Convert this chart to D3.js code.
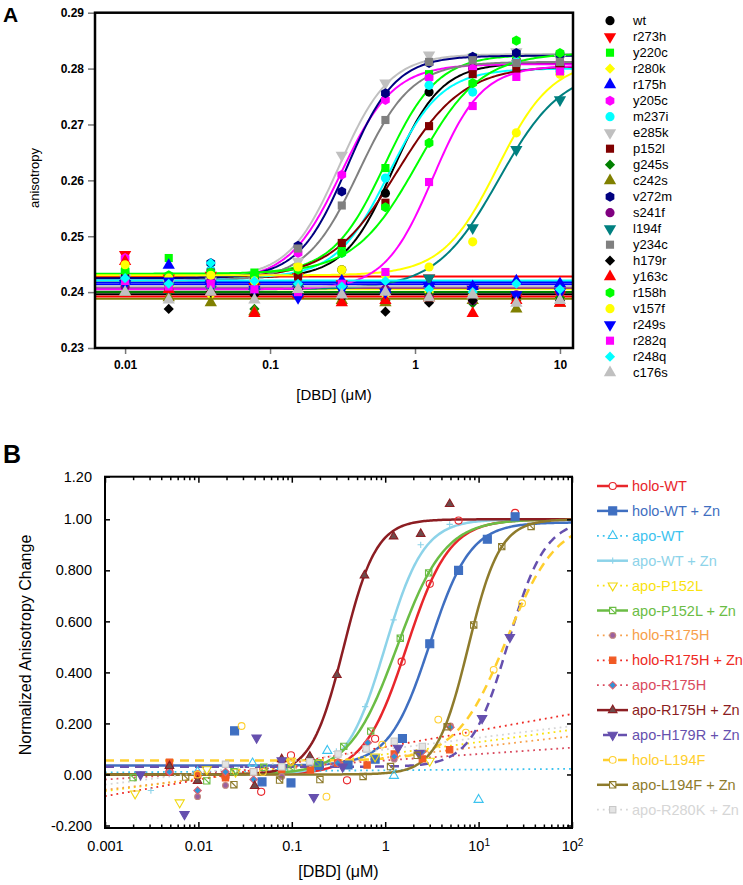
<!DOCTYPE html>
<html lang="en">
<head>
<meta charset="utf-8">
<script src="https://d3js.org/d3.v7.min.js"></script>
<style>
  body { margin: 0; background: #fff; }
  svg { display: block; font-family: Arial, "Liberation Sans", sans-serif; }
</style>
</head>
<body>
<svg id="chart" width="743" height="885"></svg>
<script>
// ---------------- panel A data ----------------
var concA = [0.01, 0.02, 0.039, 0.078, 0.156, 0.3125, 0.625, 1.25, 2.5, 5, 10];
var namesA = ['wt', 'r273h', 'y220c', 'r280k', 'r175h', 'y205c', 'm237i', 'e285k', 'p152l', 'g245s', 'c242s',
  'v272m', 's241f', 'l194f', 'y234c', 'h179r', 'y163c', 'r158h', 'v157f', 'r249s', 'r282q', 'r248q', 'c176s'];
var colorsA = ['#000000', '#ff0000', '#00ff00', '#ffff00', '#0000ff', '#ff00ff', '#00ffff', '#c0c0c0', '#800000', '#008000', '#808000',
  '#000080', '#800080', '#008080', '#808080', '#000000', '#ff0000', '#00ff00', '#ffff00', '#0000ff', '#ff00ff', '#00ffff', '#c0c0c0'];
var shapesA = ['circle', 'tdown', 'square', 'diamond', 'tup', 'hex', 'circle', 'tdown', 'square', 'diamond', 'tup',
  'hex', 'circle', 'tdown', 'square', 'diamond', 'tup', 'hex', 'circle', 'tdown', 'square', 'diamond', 'tup'];
// anisotropy at each concA value
var anisoA = [
  [0.2428, 0.2420, 0.2415, 0.2422, 0.2430, 0.2440, 0.2577, 0.2758, 0.2800, 0.2815, 0.2805],
  [0.2467, 0.2425, 0.2430, 0.2410, 0.2428, 0.2415, 0.2400, 0.2425, 0.2405, 0.2390, 0.2395],
  [0.2440, 0.2461, 0.2420, 0.2435, 0.2440, 0.2475, 0.2622, 0.2790, 0.2820, 0.2825, 0.2822],
  [0.2430, 0.2410, 0.2395, 0.2405, 0.2449, 0.2410, 0.2395, 0.2400, 0.2395, 0.2380, 0.2390],
  [0.2420, 0.2448, 0.2425, 0.2410, 0.2415, 0.2420, 0.2405, 0.2415, 0.2410, 0.2420, 0.2415],
  [0.2461, 0.2415, 0.2420, 0.2405, 0.2470, 0.2610, 0.2744, 0.2783, 0.2800, 0.2812, 0.2810],
  [0.2415, 0.2420, 0.2440, 0.2420, 0.2430, 0.2470, 0.2604, 0.2770, 0.2758, 0.2812, 0.2795],
  [0.2425, 0.2415, 0.2420, 0.2418, 0.2455, 0.2645, 0.2774, 0.2824, 0.2820, 0.2830, 0.2818],
  [0.2430, 0.2425, 0.2435, 0.2420, 0.2428, 0.2488, 0.2560, 0.2697, 0.2790, 0.2800, 0.2802],
  [0.2425, 0.2400, 0.2410, 0.2370, 0.2395, 0.2390, 0.2385, 0.2395, 0.2380, 0.2385, 0.2390],
  [0.2400, 0.2390, 0.2381, 0.2365, 0.2395, 0.2385, 0.2381, 0.2390, 0.2385, 0.2370, 0.2380],
  [0.2425, 0.2420, 0.2452, 0.2425, 0.2483, 0.2580, 0.2756, 0.2810, 0.2821, 0.2828, 0.2825],
  [0.2410, 0.2405, 0.2420, 0.2400, 0.2410, 0.2395, 0.2405, 0.2390, 0.2385, 0.2395, 0.2400],
  [0.2415, 0.2410, 0.2405, 0.2400, 0.2410, 0.2405, 0.2400, 0.2425, 0.2515, 0.2655, 0.2744],
  [0.2420, 0.2415, 0.2410, 0.2405, 0.2478, 0.2555, 0.2708, 0.2812, 0.2815, 0.2810, 0.2812],
  [0.2420, 0.2370, 0.2400, 0.2395, 0.2405, 0.2390, 0.2365, 0.2381, 0.2385, 0.2390, 0.2385],
  [0.2455, 0.2405, 0.2400, 0.2362, 0.2395, 0.2381, 0.2385, 0.2390, 0.2362, 0.2385, 0.2380],
  [0.2438, 0.2430, 0.2435, 0.2430, 0.2440, 0.2470, 0.2552, 0.2667, 0.2774, 0.2850, 0.2828],
  [0.2449, 0.2425, 0.2430, 0.2420, 0.2445, 0.2440, 0.2430, 0.2445, 0.2490, 0.2685, 0.2790],
  [0.2415, 0.2420, 0.2410, 0.2405, 0.2390, 0.2405, 0.2400, 0.2410, 0.2405, 0.2395, 0.2400],
  [0.2420, 0.2410, 0.2415, 0.2405, 0.2400, 0.2415, 0.2436, 0.2597, 0.2733, 0.2785, 0.2795],
  [0.2425, 0.2415, 0.2452, 0.2420, 0.2415, 0.2410, 0.2420, 0.2405, 0.2400, 0.2415, 0.2405],
  [0.2400, 0.2386, 0.2400, 0.2386, 0.2405, 0.2395, 0.2400, 0.2390, 0.2395, 0.2380, 0.2385]
];
// fitted curves: [bottom, top, K, hill n]
var fitsA = [
  [0.2425, 0.2810, 0.70, 2.6], [0.2428, 0.2428, 1, 1], [0.2432, 0.2825, 0.62, 2.4], [0.2405, 0.2405, 1, 1],
  [0.2418, 0.2418, 1, 1], [0.2420, 0.2808, 0.31, 2.4], [0.2425, 0.2800, 0.66, 2.4], [0.2425, 0.2826, 0.30, 2.5],
  [0.2425, 0.2805, 0.75, 1.9], [0.2400, 0.2400, 1, 1], [0.2388, 0.2388, 1, 1], [0.2425, 0.2823, 0.34, 2.6],
  [0.2408, 0.2408, 1, 1], [0.2405, 0.2800, 3.8, 2.0], [0.2420, 0.2812, 0.41, 2.4], [0.2396, 0.2396, 1, 1],
  [0.2392, 0.2392, 1, 1], [0.2433, 0.2828, 1.04, 2.0], [0.2430, 0.2815, 3.7, 2.3], [0.2414, 0.2414, 1, 1],
  [0.2405, 0.2805, 1.33, 2.6], [0.2421, 0.2421, 1, 1], [0.2410, 0.2410, 1, 1]
];
var yTicksA = [0.23, 0.24, 0.25, 0.26, 0.27, 0.28, 0.29];
var xTicksA = [0.01, 0.1, 1, 10];

// ---------------- panel B data ----------------
var namesB = ['holo-WT', 'holo-WT + Zn', 'apo-WT', 'apo-WT + Zn', 'apo-P152L', 'apo-P152L + Zn', 'holo-R175H',
  'holo-R175H + Zn', 'apo-R175H', 'apo-R175H + Zn', 'apo-H179R + Zn', 'holo-L194F', 'apo-L194F + Zn', 'apo-R280K + Zn'];
var colorsB = ['#e8262b', '#3f6fc1', '#3cc3ef', '#8dd3e9', '#f9e20f', '#6bbd45', '#f7a04a',
  '#ee2a24', '#d94a5e', '#8c1d22', '#6650ae', '#ffcf2e', '#8e7b2c', '#d6d6d6'];
var styleB = ['solid', 'solid', 'dot', 'solid', 'dot', 'solid', 'dot', 'dot', 'dot', 'solid', 'dash', 'dash', 'solid', 'dot'];
var shapesB = ['circle', 'square', 'tup', 'plus', 'tdown', 'boxx', 'circle', 'square', 'diamond', 'tup', 'tdown', 'circle', 'boxx', 'square'];
var markFillB = ['none', '#3f6fc1', 'none', 'none', 'none', 'none', '#9a5fa0', '#f15a24', '#2f93d6', '#6d4c4c', '#6650ae', 'none', 'none', '#e4e4e4'];
var markStrokeB = ['#e8262b', '#3f6fc1', '#3cc3ef', '#8dd3e9', '#f0d80f', '#6bbd45', '#c0877f', '#f15a24', '#e06070', '#8c1d22', '#6650ae', '#ffcf2e', '#8e7b2c', '#c8c8c8'];
var markSizeB = [40, 64, 36, 40, 36, 40, 26, 40, 28, 32, 38, 36, 40, 40];
// fit type and parameters: hill -> [bottom, top, K, n]; loglin -> [value at 0.001, value at 100]
var fitTypeB = ['hill', 'hill', 'loglin', 'hill', 'loglin', 'hill', 'loglin', 'loglin', 'loglin', 'hill', 'hill', 'hill', 'hill', 'loglin'];
var fitParamB = [
  [0, 1.0, 1.7, 1.9], [0.035, 0.988, 3.0, 2.0], [0.008, 0.022], [0, 1.0, 1.0, 2.1], [-0.065, 0.175], [0, 1.0, 1.34, 1.7],
  [-0.06, 0.15], [-0.085, 0.237], [-0.02, 0.105], [0, 1.0, 0.36, 2.5], [0.03, 1.0, 20.7, 2.2], [0.055, 1.0, 19.9, 1.62],
  [0, 1.0, 7.75, 2.56], [-0.04, 0.19]
];
// [DBD (uM), normalized change]
var pointsB = [
  [[0.0049, 0.01], [0.0098, 0.0], [0.0195, -0.01], [0.047, -0.068], [0.098, 0.075], [0.195, 0.03], [0.39, -0.023], [0.78, 0.14], [1.5, 0.442], [3.0, 0.747], [6.1, 0.995], [24.6, 1.025]],
  [[0.0244, 0.171], [0.048, -0.029], [0.098, -0.033], [0.195, 0.035], [0.4, 0.037], [0.78, 0.06], [1.53, 0.141], [3.0, 0.512], [6.1, 0.80], [12.4, 0.922], [24.6, 1.01]],
  [[0.0098, 0.01], [0.038, 0.044], [0.078, 0.03], [0.24, 0.093], [1.24, -0.005], [10, -0.099]],
  [[0.0031, -0.063], [0.0195, 0.01], [0.039, 0.0], [0.078, 0.04], [0.15, 0.05], [0.3, 0.09], [0.61, 0.266], [1.23, 0.606], [2.4, 0.9], [4.9, 0.98]],
  [[0.0021, -0.075], [0.0063, -0.11], [0.0123, 0.02], [0.025, 0.01], [0.098, 0.053], [0.78, 0.07], [3.0, 0.053]],
  [[0.002, -0.012], [0.0123, -0.025], [0.024, 0.011], [0.05, 0.028], [0.098, 0.024], [0.19, 0.045], [0.36, 0.11], [0.7, 0.17], [1.45, 0.534], [2.92, 0.79]],
  [[0.0098, -0.087], [0.0195, -0.043], [0.078, -0.008], [0.3125, 0.05], [1.25, 0.06], [5, 0.19]],
  [[0.0049, 0.048], [0.0098, -0.003], [0.0195, -0.013], [0.039, 0.01], [0.078, 0.02], [0.158, 0.017], [0.31, 0.045], [0.64, 0.037], [1.25, 0.08], [2.5, 0.061], [4.9, 0.097]],
  [[0.0049, 0.01], [0.0098, -0.063], [0.0195, 0.01], [0.039, -0.02], [0.078, 0.05], [0.156, 0.06], [0.31, 0.045], [0.65, 0.124], [1.25, 0.07], [2.5, 0.09], [5, 0.185]],
  [[0.0049, 0.033], [0.0098, -0.025], [0.04, -0.045], [0.078, 0.06], [0.156, 0.07], [0.304, 0.39], [0.6, 0.78], [1.23, 0.933], [2.4, 0.943], [4.9, 1.06]],
  [[0.0024, 0.0], [0.0071, -0.156], [0.042, 0.144], [0.078, 0.055], [0.172, -0.089], [0.35, 0.03], [1.37, 0.104], [2.3, 0.084], [10.9, 0.22], [21.6, 0.538]],
  [[0.0098, 0.0], [0.029, 0.19], [0.049, 0.01], [0.098, 0.05], [0.235, -0.087], [0.93, 0.117], [3.7, 0.215], [7.3, 0.164], [14.5, 0.41], [29.2, 0.671]],
  [[0.0073, -0.01], [0.024, -0.04], [0.074, -0.022], [0.2, -0.02], [0.58, -0.008], [1.14, 0.031], [2.2, 0.075], [4.6, 0.187], [8.87, 0.586], [17.7, 0.893], [36.5, 0.972]],
  [[0.0195, 0.04], [0.039, 0.01], [0.078, 0.03], [0.156, 0.05], [0.3125, 0.08], [0.625, 0.1], [1.25, 0.13], [2.5, 0.11]]
];
var yTicksB = [-0.2, 0, 0.2, 0.4, 0.6, 0.8, 1.0, 1.167];
var yLabelsB = ['-0.200', '0.00', '0.200', '0.400', '0.600', '0.800', '1.00', '1.20'];
var xMajorB = [0.001, 0.01, 0.1, 1, 10, 100];

// ---------------- helpers ----------------
var hexagon = {
  draw: function (ctx, size) {
    var r = Math.sqrt(size / (1.5 * Math.sqrt(3)));
    for (var i = 0; i < 6; i++) {
      var a = Math.PI / 3 * i - Math.PI / 2;
      if (i === 0) ctx.moveTo(r * Math.cos(a), r * Math.sin(a));
      else ctx.lineTo(r * Math.cos(a), r * Math.sin(a));
    }
    ctx.closePath();
  }
};
var boxCross = {
  draw: function (ctx, size) {
    var r = Math.sqrt(size) / 2;
    ctx.moveTo(-r, -r); ctx.lineTo(r, -r); ctx.lineTo(r, r); ctx.lineTo(-r, r); ctx.closePath();
    ctx.moveTo(-r, -r); ctx.lineTo(r, r);
  }
};
var plusSym = {
  draw: function (ctx, size) {
    var r = Math.sqrt(size) / 2;
    ctx.moveTo(-r, 0); ctx.lineTo(r, 0); ctx.moveTo(0, -r); ctx.lineTo(0, r);
  }
};
var shapeTypes = {
  circle: [d3.symbolCircle, 0], tdown: [d3.symbolTriangle, 180], tup: [d3.symbolTriangle, 0],
  square: [d3.symbolSquare, 0], diamond: [d3.symbolSquare, 45], hex: [hexagon, 0],
  plus: [plusSym, 0], boxx: [boxCross, 0]
};

function marker(g, shape, x, y, size, fill, stroke, sw) {
  var t = shapeTypes[shape];
  g.append('path')
    .attr('d', d3.symbol().type(t[0]).size(size)())
    .attr('transform', 'translate(' + x + ',' + y + ') rotate(' + t[1] + ')')
    .attr('fill', fill)
    .attr('stroke', stroke)
    .attr('stroke-width', sw);
}

function hill(p, x) {
  var xn = Math.pow(x, p[3]);
  return p[0] + (p[1] - p[0]) * xn / (Math.pow(p[2], p[3]) + xn);
}

function logSamples(lo, hi, n) {
  return d3.range(n + 1).map(function (i) { return lo * Math.pow(hi / lo, i / n); });
}

var svg = d3.select('#chart');
var defs = svg.append('defs');

// ================= PANEL A =================
var A = { left: 95, right: 573, top: 12.7, bottom: 348 };
var xA = d3.scaleLog().domain([0.0062, 12.3]).range([A.left, A.right]);
var yA = d3.scaleLinear().domain([0.23, 0.29]).range([A.bottom, A.top]);

defs.append('clipPath').attr('id', 'clipA').append('rect')
  .attr('x', A.left).attr('y', A.top).attr('width', A.right - A.left).attr('height', A.bottom - A.top);

var gA = svg.append('g');
var curvesA = gA.append('g').attr('clip-path', 'url(#clipA)');
var sampA = logSamples(0.0062, 12.3, 240);
var lineA = d3.line().x(function (d) { return xA(d[0]); }).y(function (d) { return yA(d[1]); });

fitsA.forEach(function (p, i) {
  curvesA.append('path')
    .attr('d', lineA(sampA.map(function (x) { return [x, hill(p, x)]; })))
    .attr('fill', 'none')
    .attr('stroke', colorsA[i])
    .attr('stroke-width', 2);
});

var ptsA = gA.append('g');
anisoA.forEach(function (vals, i) {
  vals.forEach(function (v, j) {
    marker(ptsA, shapesA[i], xA(concA[j]), yA(v), shapesA[i] === 'diamond' ? 52 : 66, colorsA[i], 'none', 0);
  });
});

// axes A
var yAxA = gA.append('g').attr('transform', 'translate(' + A.left + ',0)')
  .call(d3.axisLeft(yA).tickValues(yTicksA).tickFormat(d3.format('.2f')).tickSize(7).tickPadding(4).tickSizeOuter(0));
var xAxA = gA.append('g').attr('transform', 'translate(0,' + A.bottom + ')')
  .call(d3.axisBottom(xA).tickValues(xTicksA).tickFormat(d3.format('~g')).tickSize(6).tickPadding(6).tickSizeOuter(0));
[yAxA, xAxA].forEach(function (ax) {
  ax.select('.domain').remove();
  ax.selectAll('.tick line').attr('stroke', '#777').attr('stroke-width', 1.5);
  ax.selectAll('.tick text').attr('font-size', 12).attr('font-weight', 'bold').attr('fill', '#000')
    .attr('font-family', 'Arial, "Liberation Sans", sans-serif');
});
gA.append('rect')
  .attr('x', A.left).attr('y', A.top).attr('width', A.right - A.left).attr('height', A.bottom - A.top)
  .attr('fill', 'none').attr('stroke', '#000').attr('stroke-width', 2.5);

gA.append('text').attr('x', 3).attr('y', 22).attr('font-size', 21).attr('font-weight', 'bold').text('A');
gA.append('text').attr('transform', 'translate(39,178) rotate(-90)').attr('text-anchor', 'middle')
  .attr('font-size', 13).text('anisotropy');
gA.append('text').attr('x', (A.left + A.right) / 2).attr('y', 400).attr('text-anchor', 'middle')
  .attr('font-size', 15).text('[DBD] (\u03bcM)');

// legend A
var legA = svg.append('g');
namesA.forEach(function (n, i) {
  var y = 20.7 + 16 * i;
  marker(legA, shapesA[i], 610, y, shapesA[i] === 'diamond' ? 52 : 66, colorsA[i], 'none', 0);
  legA.append('text').attr('x', 633).attr('y', y + 4.5).attr('font-size', 13).text(n);
});

// ================= PANEL B =================
var B = { left: 105, right: 572, top: 476.7, bottom: 828 };
var xB = d3.scaleLog().domain([0.001, 100]).range([B.left, B.right]);
var yB = d3.scaleLinear().domain([-0.2, 1.0]).range([825.5, 519.3]);

defs.append('clipPath').attr('id', 'clipB').append('rect')
  .attr('x', B.left).attr('y', B.top).attr('width', B.right - B.left).attr('height', B.bottom - B.top);

var dashOf = { solid: null, dot: '1.8,4', dash: '9,6' };
var widthOf = { solid: 2.5, dot: 1.8, dash: 2.5 };

var gB = svg.append('g');
var curvesB = gB.append('g').attr('clip-path', 'url(#clipB)');
var sampB = logSamples(0.001, 100, 300);
var lineB = d3.line().x(function (d) { return xB(d[0]); }).y(function (d) { return yB(d[1]); });

function fitValueB(i, x) {
  var p = fitParamB[i];
  if (fitTypeB[i] === 'hill') return hill(p, x);
  return p[0] + (p[1] - p[0]) * (Math.log10(x) + 3) / 5;
}

namesB.forEach(function (n, i) {
  curvesB.append('path')
    .attr('d', lineB(sampB.map(function (x) { return [x, fitValueB(i, x)]; })))
    .attr('fill', 'none')
    .attr('stroke', colorsB[i])
    .attr('stroke-width', widthOf[styleB[i]])
    .attr('stroke-dasharray', dashOf[styleB[i]]);
});

var ptsB = gB.append('g');
pointsB.forEach(function (pts, i) {
  pts.forEach(function (d) {
    marker(ptsB, shapesB[i], xB(d[0]), yB(d[1]), markSizeB[i], markFillB[i], markStrokeB[i], 1.1);
  });
});

// axes B
var minorB = [];
xMajorB.slice(0, -1).forEach(function (m) {
  for (var k = 2; k <= 9; k++) minorB.push(m * k);
});
var xAxisB = gB.append('g').attr('transform', 'translate(0,' + B.bottom + ')')
  .call(d3.axisBottom(xB).tickValues(xMajorB.concat(minorB)).tickSize(-6).tickPadding(13).tickSizeOuter(0)
    .tickFormat(function (d) {
      if (xMajorB.indexOf(d) < 0) return '';
      return d >= 10 ? '10' : d3.format('~g')(d);
    }));
var xTopB = gB.append('g').attr('transform', 'translate(0,' + B.top + ')')
  .call(d3.axisTop(xB).tickValues(xMajorB.concat(minorB)).tickSize(-6).tickSizeOuter(0).tickFormat(''));
[xAxisB, xTopB].forEach(function (ax) {
  ax.selectAll('.tick').filter(function (d) { return xMajorB.indexOf(d) < 0; })
    .select('line').attr('y2', ax === xAxisB ? -3.5 : 3.5);
});
xAxisB.selectAll('.tick').filter(function (d) { return d >= 10 && xMajorB.indexOf(d) >= 0; })
  .select('text').append('tspan').attr('dy', '-0.55em').attr('font-size', 10)
  .text(function (d) { return d === 10 ? '1' : '2'; });

var yAxisB = gB.append('g').attr('transform', 'translate(' + B.left + ',0)')
  .call(d3.axisLeft(yB).tickValues(yTicksB).tickSize(-5).tickPadding(13).tickSizeOuter(0)
    .tickFormat(function (d, i) { return yLabelsB[i]; }));
var yRightB = gB.append('g').attr('transform', 'translate(' + B.right + ',0)')
  .call(d3.axisRight(yB).tickValues(yTicksB).tickSize(-5).tickSizeOuter(0).tickFormat(''));

[xAxisB, xTopB, yAxisB, yRightB].forEach(function (ax) {
  ax.select('.domain').remove();
  ax.selectAll('.tick line').attr('stroke', '#000').attr('stroke-width', 1.5);
  ax.selectAll('.tick text').attr('font-size', 14.5).attr('fill', '#000')
    .attr('font-family', 'Arial, "Liberation Sans", sans-serif');
});
gB.append('rect')
  .attr('x', B.left).attr('y', B.top).attr('width', B.right - B.left).attr('height', B.bottom - B.top)
  .attr('fill', 'none').attr('stroke', '#000').attr('stroke-width', 2);

gB.append('text').attr('x', 3).attr('y', 463).attr('font-size', 25).attr('font-weight', 'bold').text('B');
gB.append('text').attr('transform', 'translate(31,645) rotate(-90)').attr('text-anchor', 'middle')
  .attr('font-size', 16).text('Normalized Anisotropy Change');
gB.append('text').attr('x', (B.left + B.right) / 2).attr('y', 877).attr('text-anchor', 'middle')
  .attr('font-size', 16).text('[DBD] (\u03bcM)');

// legend B
var legB = svg.append('g');
namesB.forEach(function (n, i) {
  var y = 486 + 24.9 * i;
  legB.append('line').attr('x1', styleB[i] === 'dash' ? 603 : 597).attr('x2', 628).attr('y1', y).attr('y2', y)
    .attr('stroke', colorsB[i]).attr('stroke-width', widthOf[styleB[i]])
    .attr('stroke-dasharray', dashOf[styleB[i]]);
  marker(legB, shapesB[i], 612.7, y, markSizeB[i], markFillB[i] === 'none' ? '#fff' : markFillB[i], markStrokeB[i], 1.1);
  legB.append('text').attr('x', 632).attr('y', y + 5).attr('font-size', 14.5).attr('fill', colorsB[i]).text(n);
});
</script>
</body>
</html>
